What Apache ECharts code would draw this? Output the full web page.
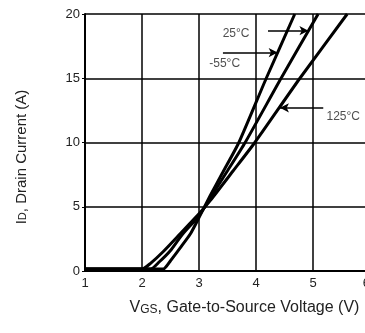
<!DOCTYPE html>
<html>
<head>
<meta charset="utf-8">
<script src="https://cdn.jsdelivr.net/npm/echarts@6/dist/echarts.min.js"></script>
<style>
  html, body { margin: 0; padding: 0; background: #fff; }
  #chart { width: 365px; height: 333px; }
</style>
</head>
<body>
<div id="chart"></div>
<script>
// transfer characteristics, Vgs (V) vs Id (A)
var curveM55 = [[1, 0.15], [2.37, 0.15], [2.5, 0.8], [2.67, 1.8], [2.85, 2.9], [3, 4.15], [3.2, 5.9], [3.42, 7.7], [3.7, 10], [4.18, 15], [4.68, 20]];
var curve25 = [[1, 0.15], [2.15, 0.15], [2.3, 0.7], [2.5, 1.6], [2.7, 2.8], [3, 4.3], [3.2, 5.7], [3.5, 7.8], [3.81, 10], [4.44, 15], [5.09, 20]];
var curve125 = [[1, 0.15], [2.0, 0.15], [2.15, 0.6], [2.37, 1.5], [2.67, 2.9], [3, 4.45], [3.2, 5.5], [3.6, 7.8], [3.98, 10], [4.77, 15], [5.6, 20]];

var tempNames = ["25°C", "-55°C", "125°C"];
// label anchor [vgs, id] and arrow [from vgs, to vgs, id]
var labelPos = [[3.65, 18.5], [3.45, 16.1], [5.53, 12.0]];
var arrowPos = [[4.21, 4.92, 18.7], [3.42, 4.38, 17.0], [5.18, 4.42, 12.7]];

var chart = echarts.init(document.getElementById("chart"));

var font = "Liberation Sans, Arial, sans-serif";

function curveSeries(name, data) {
  return {
    name: name,
    type: "line",
    data: data,
    showSymbol: false,
    smooth: 0.2,
    lineStyle: { color: "#000", width: 3 },
    silent: true
  };
}

var arrowLines = arrowPos.map(function(a) {
  return [
    { coord: [a[0], a[2]] },
    { coord: [a[1], a[2]] }
  ];
});

var option = {
  animation: false,
  grid: { left: 85, top: 14, right: -5, bottom: 62, outerBoundsMode: "none", containLabel: false },
  xAxis: {
    type: "value",
    min: 1,
    max: 6,
    interval: 1,
    name: "{b|V}{s|GS}{b|, Gate-to-Source Voltage (V)}",
    nameLocation: "middle",
    nameGap: 29,
    nameTextStyle: {
      padding: [0, 0, 0, 34],
      rich: {
        b: { fontFamily: font, fontSize: 16, color: "#222" },
        s: { fontFamily: font, fontSize: 12, color: "#222", padding: [3, 0, 0, 0] }
      }
    },
    axisLine: { lineStyle: { color: "#000", width: 2 } },
    axisTick: { show: false },
    axisLabel: { color: "#222", fontFamily: font, fontSize: 13, margin: 6, alignMaxLabel: "right" },
    splitLine: { show: true, lineStyle: { color: "#000", width: 1.5 } }
  },
  yAxis: {
    type: "value",
    min: 0,
    max: 20,
    interval: 5,
    name: "{b|I}{s|D}{b|, Drain Current (A)}",
    nameLocation: "middle",
    nameGap: 56,
    nameTextStyle: {
      padding: [0, 29, 0, 0],
      rich: {
        b: { fontFamily: font, fontSize: 15, color: "#222" },
        s: { fontFamily: font, fontSize: 11, color: "#222", padding: [3, 0, 0, 0] }
      }
    },
    axisLine: { show: true, lineStyle: { color: "#000", width: 2 } },
    axisTick: { show: true, length: 3, lineStyle: { color: "#000" } },
    axisLabel: { color: "#222", fontFamily: font, fontSize: 13, margin: 5 },
    splitLine: { show: true, lineStyle: { color: "#000", width: 1.5 } }
  },
  series: [
    curveSeries("-55°C", curveM55),
    curveSeries("25°C", curve25),
    curveSeries("125°C", curve125),
    {
      type: "scatter",
      symbolSize: 0,
      silent: true,
      data: labelPos.map(function(p, i) {
        return { value: p, name: tempNames[i] };
      }),
      label: {
        show: true,
        position: "inside",
        formatter: function(p) { return p.name; },
        color: "#222",
        fontFamily: font,
        fontSize: 12
      },
      markLine: {
        silent: true,
        symbol: ["none", "arrow"],
        symbolSize: [7, 9],
        label: { show: false },
        lineStyle: { color: "#000", width: 1.5, type: "solid" },
        data: arrowLines
      }
    }
  ]
};

chart.setOption(option);
</script>
</body>
</html>
